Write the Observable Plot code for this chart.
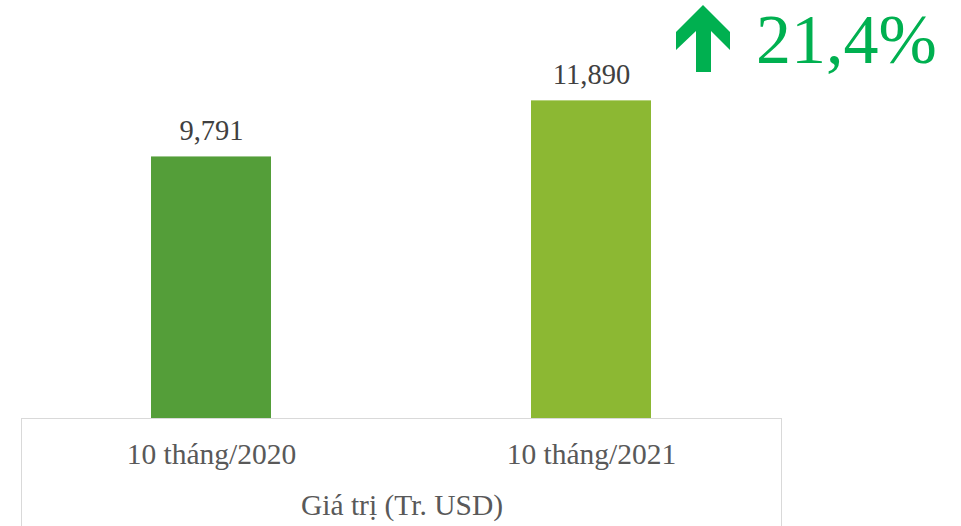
<!DOCTYPE html>
<html>
<head>
<meta charset="utf-8">
<script src="https://cdn.jsdelivr.net/npm/d3@7"></script>
<script src="https://cdn.jsdelivr.net/npm/@observablehq/plot@0.6"></script>
<style>
  html, body { margin: 0; padding: 0; background: #fff; }
  #wrap { position: relative; width: 961px; height: 526px; overflow: hidden; }
  #box { position: absolute; left: 21px; top: 418px; width: 761px; height: 120px;
         border: 1.5px solid #d9d9d9; box-sizing: border-box; pointer-events: none; }
  #growth { position: absolute; left: 0; top: 0; pointer-events: none; }
</style>
</head>
<body>
<div id="wrap"></div>
<script>
const categories = ["10 tháng/2020", "10 tháng/2021"];
const values = [9791, 11890];
const valueLabels = ["9,791", "11,890"];
const barColors = ["#549e39", "#8cb833"];
const axisTitle = "Giá trị (Tr. USD)";
const growthLabel = "21,4%";

const data = categories.map((c, i) => ({category: c, value: values[i], label: valueLabels[i], color: barColors[i]}));

const chart = Plot.plot({
  width: 961,
  height: 526,
  marginLeft: 21,
  marginRight: 179,
  marginTop: 44,
  marginBottom: 108,
  style: {fontFamily: "'Liberation Serif', 'Times New Roman', serif", fontSize: "28px", color: "#404040", background: "white"},
  x: {domain: categories, paddingInner: 0.684, paddingOuter: 0.342, axis: null},
  y: {domain: [0, 14000], axis: null},
  marks: [
    Plot.barY(data, {x: "category", y: "value", fill: "color"}),
    Plot.text(data, {x: "category", y: "value", text: "label", lineAnchor: "bottom", dy: -17, fill: "#404040", fontSize: 28.5}),
    Plot.axisX({tickSize: 0, tickPadding: 25, fontSize: 29.5, fill: "#595959", label: null}),
    Plot.text([axisTitle], {frameAnchor: "bottom", dy: 87, lineAnchor: "middle", fill: "#595959", fontSize: 29.5})
  ]
});

const wrap = document.getElementById("wrap");
wrap.appendChild(chart);
const box = document.createElement("div");
box.id = "box";
wrap.appendChild(box);

const ns = "http://www.w3.org/2000/svg";
const g = document.createElementNS(ns, "svg");
g.setAttribute("id", "growth");
g.setAttribute("width", 961);
g.setAttribute("height", 120);
const arrow = document.createElementNS(ns, "polygon");
arrow.setAttribute("points", "703,5 676,32 676,50 696,31 696,72 711,72 711,31 730,50 730,32");
arrow.setAttribute("fill", "#00b050");
g.appendChild(arrow);
const t = document.createElementNS(ns, "text");
t.setAttribute("x", 756);
t.setAttribute("y", 63);
t.setAttribute("font-family", "'Liberation Serif', 'Times New Roman', serif");
t.setAttribute("font-size", 70);
t.setAttribute("fill", "#00b050");
t.textContent = growthLabel;
g.appendChild(t);
wrap.appendChild(g);
</script>
</body>
</html>
